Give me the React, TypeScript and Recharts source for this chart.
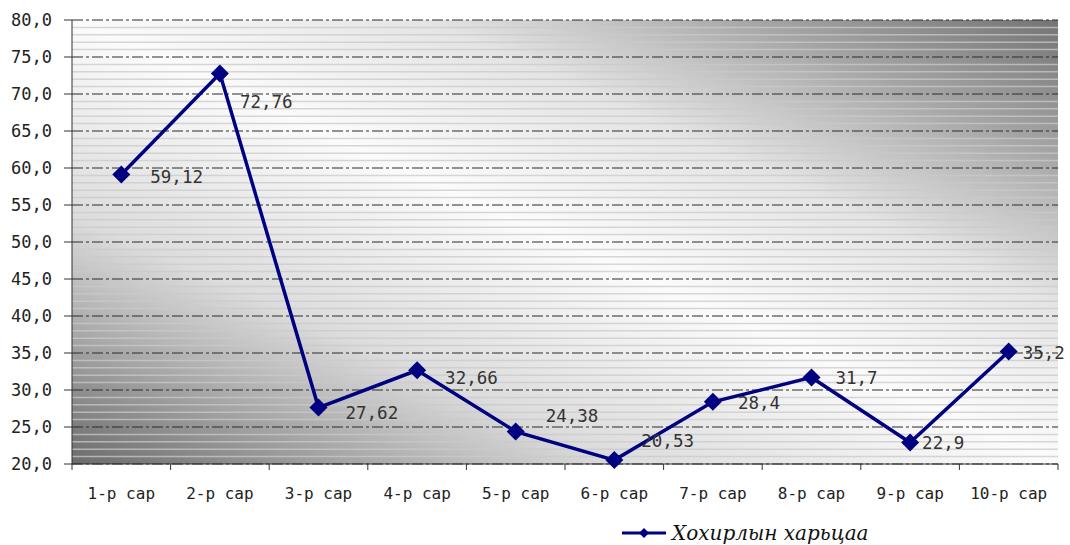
import { LineChart, Line, XAxis, YAxis, CartesianGrid, ReferenceLine, LabelList, Legend } from "recharts";

const months = ["1-р сар", "2-р сар", "3-р сар", "4-р сар", "5-р сар", "6-р сар", "7-р сар", "8-р сар", "9-р сар", "10-р сар"];
const ratio = [59.12, 72.76, 27.62, 32.66, 24.38, 20.53, 28.4, 31.7, 22.9, 35.2];
const yTicks = [20, 25, 30, 35, 40, 45, 50, 55, 60, 65, 70, 75, 80];
const minorTicks = [
  21, 22, 23, 24, 26, 27, 28, 29, 31, 32, 33, 34, 36, 37, 38, 39, 41, 42, 43, 44, 46, 47, 48, 49,
  51, 52, 53, 54, 56, 57, 58, 59, 61, 62, 63, 64, 66, 67, 68, 69, 71, 72, 73, 74, 76, 77, 78, 79,
];
// label nudges (dx, dy) relative to each point, as placed in the original
const labelShift = [
  [29, 2], [20, 28], [27, 5], [28, 8], [30, -16], [27, -19], [25, 1], [24, 1], [12, 0], [14, 1],
];

const data = months.map((m, i) => ({ month: m, value: ratio[i] }));

const W = 1070;
const H = 545;
const LEFT = 72;
const RIGHT = 12;
const band = (W - LEFT - RIGHT) / months.length;
const NAVY = "#000080";
const mono = "'DejaVu Sans Mono', monospace";

const fmt = (v: number) => v.toFixed(1).replace(".", ",");

function Diamond(props: any) {
  const { cx, cy } = props;
  if (cx == null || cy == null) return null;
  const r = 9;
  return <polygon points={`${cx},${cy - r} ${cx + r},${cy} ${cx},${cy + r} ${cx - r},${cy}`} fill={NAVY} />;
}

function MonthTick(props: any) {
  const { x, y, payload, index } = props;
  return (
    <g>
      {index === 0 && <line x1={x - band / 2} x2={x - band / 2} y1={y} y2={y + 6} stroke="#333" />}
      <line x1={x + band / 2} x2={x + band / 2} y1={y} y2={y + 6} stroke="#333" />
      <text x={x} y={y + 35} textAnchor="middle" fontSize={16} fontFamily={mono} fill="#222">
        {payload.value}
      </text>
    </g>
  );
}

function ValueLabel(props: any) {
  const { x, y, value, index } = props;
  const [dx, dy] = labelShift[index] || [20, 0];
  return (
    <text x={x + dx} y={y + dy} dominantBaseline="central" fontSize={17.5} fontFamily={mono} fill="#333">
      {String(value).replace(".", ",")}
    </text>
  );
}

function LegendBox() {
  return (
    <div style={{ height: 24, display: "flex", justifyContent: "flex-start", alignItems: "center", paddingLeft: 612 }}>
      <svg width={48} height={14}>
        <line x1={2} x2={46} y1={7} y2={7} stroke={NAVY} strokeWidth={3} />
        <polygon points="24,2 29,7 24,12 19,7" fill={NAVY} />
      </svg>
      <span style={{ fontFamily: "'DejaVu Serif', serif", fontStyle: "italic", fontSize: 20, color: "#111", marginLeft: 4 }}>
        Хохирлын харьцаа
      </span>
    </div>
  );
}

export default function App() {
  return (
    <div style={{ position: "absolute", left: 0, top: 0, width: W, height: H, background: "#fff" }}>
      <LineChart width={W} height={H} data={data} margin={{ top: 20, right: RIGHT, left: 8, bottom: 0 }}>
        <defs>
          <linearGradient id="plotBg" x1="0" y1="1" x2="1" y2="0">
            <stop offset="0" stopColor="#6c6c6c" />
            <stop offset="0.28" stopColor="#dcdcdc" />
            <stop offset="0.5" stopColor="#fbfbfb" />
            <stop offset="0.68" stopColor="#e4e4e4" />
            <stop offset="0.85" stopColor="#a4a4a4" />
            <stop offset="1" stopColor="#747474" />
          </linearGradient>
        </defs>
        <CartesianGrid
          vertical={false}
          fill="url(#plotBg)"
          fillOpacity={1}
          stroke="#2a2a2a"
          strokeDasharray="11 3 3 3"
        />
        {minorTicks.map((v) => (
          <ReferenceLine key={v} y={v} stroke="#c9c9c9" strokeWidth={1.5} strokeOpacity={0.75} />
        ))}
        <XAxis
          dataKey="month"
          scale="band"
          height={57}
          axisLine={{ stroke: "#333" }}
          tickLine={false}
          tickSize={0}
          tickMargin={0}
          interval={0}
          tick={<MonthTick />}
        />
        <YAxis
          width={64}
          domain={[20, 80]}
          ticks={yTicks}
          tickFormatter={fmt}
          axisLine={{ stroke: "#333" }}
          tickLine={{ stroke: "#333" }}
          tickSize={8}
          tickMargin={12}
          tick={{ fontSize: 17, fontFamily: mono, fill: "#222" }}
        />
        <Legend verticalAlign="bottom" height={24} content={<LegendBox />} />
        <Line
          dataKey="value"
          stroke={NAVY}
          strokeWidth={3.5}
          dot={<Diamond />}
          activeDot={false}
          isAnimationActive={false}
        >
          <LabelList dataKey="value" content={<ValueLabel />} />
        </Line>
      </LineChart>
    </div>
  );
}
